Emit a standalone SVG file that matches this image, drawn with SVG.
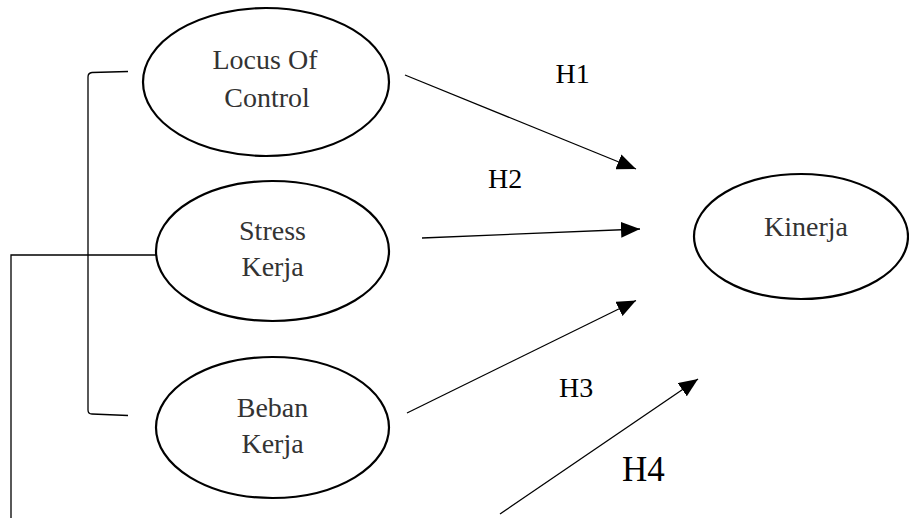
<svg xmlns="http://www.w3.org/2000/svg" width="909" height="524" viewBox="0 0 909 524">
<style>
.node ellipse{fill:#fff;stroke:#000;stroke-width:2.2}
.node text{font-family:"Liberation Serif","Times New Roman",serif;font-size:28px;fill:#333;text-anchor:middle}
.lbl{font-family:"Liberation Serif","Times New Roman",serif;font-size:28px;fill:#000}
.conn line,.conn path{stroke:#000;stroke-width:1.3;fill:none}
</style>
<defs>
<marker id="ah" markerUnits="userSpaceOnUse" markerWidth="20" markerHeight="16" viewBox="0 0 20 16" refX="19" refY="8" orient="auto">
<path d="M0,0 L19,8 L0,16 Z" fill="#000"/>
</marker>
</defs>
<rect width="909" height="524" fill="#fff"/>
<g id="locus" class="node">
<ellipse cx="266" cy="82" rx="123" ry="74"/>
<text x="265" y="69">Locus Of</text>
<text x="267" y="107">Control</text>
</g>
<g id="stress" class="node">
<ellipse cx="272.5" cy="251" rx="116.5" ry="70"/>
<text x="272.5" y="240">Stress</text>
<text x="272.5" y="276">Kerja</text>
</g>
<g id="beban" class="node">
<ellipse cx="272.5" cy="427.5" rx="116.5" ry="70.5"/>
<text x="272.5" y="417">Beban</text>
<text x="272.5" y="453">Kerja</text>
</g>
<g id="kinerja" class="node">
<ellipse cx="801" cy="236.5" rx="107" ry="62.5"/>
<text x="806" y="236">Kinerja</text>
</g>
<g id="connectors" class="conn">
<path d="M128,71.5 L92,72.5 Q88,73 88,77 L88,410 Q88,414 92,414 L128,415.5"/>
<path d="M156,255 L11,255 L11,518"/>
<line x1="405" y1="75" x2="636" y2="169" marker-end="url(#ah)"/>
<line x1="422" y1="238" x2="640" y2="229" marker-end="url(#ah)"/>
<line x1="407" y1="413" x2="636" y2="300.5" marker-end="url(#ah)"/>
<line x1="500" y1="514" x2="698" y2="379" marker-end="url(#ah)"/>
</g>
<g id="labels">
<text class="lbl" x="555.5" y="82.5">H1</text>
<text class="lbl" x="488" y="188">H2</text>
<text class="lbl" x="559" y="397">H3</text>
<text class="lbl" x="622" y="481" style="font-size:35px">H4</text>
</g>
</svg>
